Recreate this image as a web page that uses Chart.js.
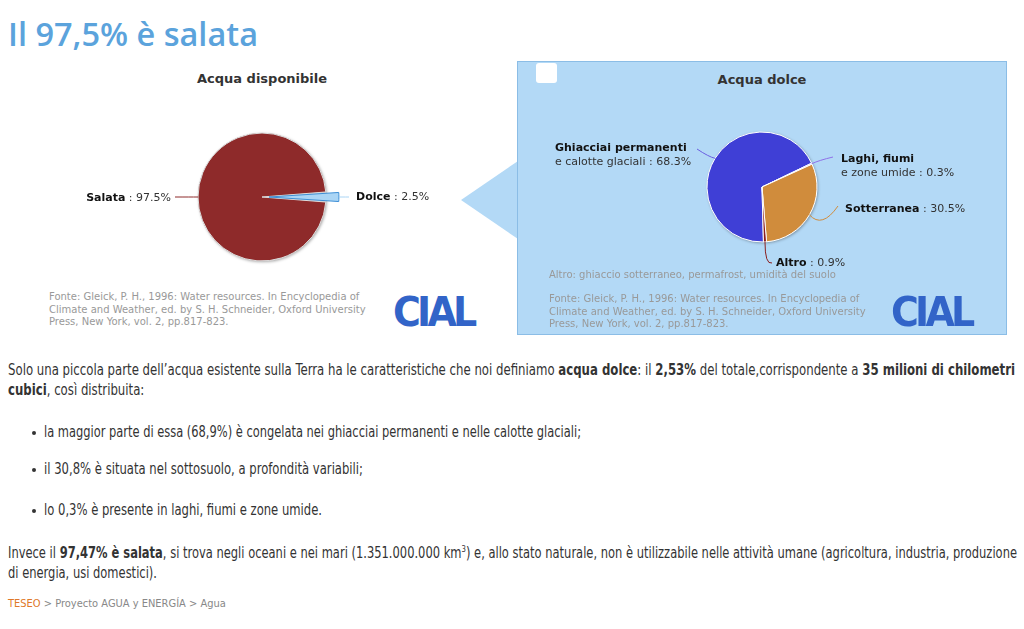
<!DOCTYPE html>
<html lang="it">
<head>
<meta charset="utf-8">
<title>Il 97,5% è salata</title>
<script src="https://cdn.jsdelivr.net/npm/chart.js@4.4.1/dist/chart.umd.min.js"></script>
<style>
  body { margin: 0; width: 1024px; height: 629px; overflow: hidden; background: #fff; position: relative; font-family: "DejaVu Sans", sans-serif; }
  h1 { position: absolute; left: 8px; top: 11px; margin: 0; font: 600 32.5px "Open Sans", sans-serif; color: #5ba3dc; white-space: nowrap; }
  .ctitle { position: absolute; font: bold 13px "DejaVu Sans", sans-serif; color: #333; white-space: nowrap; transform: translateX(-50%); }
  .note { position: absolute; font: 10px "DejaVu Sans", sans-serif; color: #999; line-height: 12.5px; white-space: nowrap; }
  .logo { position: absolute; font: bold 40px "DejaVu Sans", sans-serif; color: #3264c8; letter-spacing: -4px; line-height: 40px; transform: scaleX(0.95); transform-origin: left; }
  #box { position: absolute; left: 517px; top: 61px; width: 488px; height: 272px; background: #b3d9f6; border: 1px solid #8bbde6; }
  #arrow { position: absolute; left: 461px; top: 161px; width: 0; height: 0; border-top: 39px solid transparent; border-bottom: 39px solid transparent; border-right: 57px solid #b3d9f6; }
  #check { position: absolute; left: 536px; top: 63px; width: 21px; height: 20px; background: #fff; border-radius: 3px; }
  canvas { position: absolute; }
  .txt { position: absolute; left: 8px; font: 15px "DejaVu Sans Condensed", sans-serif; color: #333; line-height: 20px; white-space: nowrap; transform-origin: left top; }
  .txt b { color: #333; }
  .li { left: 44px; }
  .dot { position: absolute; left: 32px; width: 4px; height: 4px; border-radius: 2px; background: #333; }
  #foot { position: absolute; left: 8px; top: 597px; font: 11px "DejaVu Sans Condensed", sans-serif; color: #888; white-space: nowrap; }
  #foot span { color: #e0782a; }
</style>
</head>
<body>
<h1>Il 97,5% è salata</h1>

<div id="arrow"></div>
<div id="box"></div>
<div id="check"></div>

<div class="ctitle" style="left:262px; top:71px;">Acqua disponibile</div>
<div class="ctitle" style="left:762px; top:72px;">Acqua dolce</div>

<canvas id="pieTotale" width="460" height="230" style="left:0; top:55px;"></canvas>
<canvas id="pieDolce" width="488" height="272" style="left:518px; top:62px;"></canvas>

<div class="note" style="left:49px; top:291px;">Fonte: Gleick, P. H., 1996: Water resources. In Encyclopedia of<br>Climate and Weather, ed. by S. H. Schneider, Oxford University<br>Press, New York, vol. 2, pp.817-823.</div>
<div class="logo" style="left:393px; top:292px;">CIAL</div>

<div class="note" style="left:549px; top:269px;">Altro: ghiaccio sotterraneo, permafrost, umidità del suolo</div>
<div class="note" style="left:549px; top:293px;">Fonte: Gleick, P. H., 1996: Water resources. In Encyclopedia of<br>Climate and Weather, ed. by S. H. Schneider, Oxford University<br>Press, New York, vol. 2, pp.817-823.</div>
<div class="logo" style="left:891px; top:292px;">CIAL</div>

<div class="txt" data-w="1007" style="top:360px;"><span class="m">Solo una piccola parte dell’acqua esistente sulla Terra ha le caratteristiche che noi definiamo <b>acqua dolce</b>: il <b>2,53%</b> del totale,corrispondente a <b>35 milioni di chilometri</b></span><br><b>cubici</b>, così distribuita:</div>
<div class="dot" style="top:431px;"></div>
<div class="txt li" data-w="537" style="top:422px;"><span class="m">la maggior parte di essa (68,9%) è congelata nei ghiacciai permanenti e nelle calotte glaciali;</span></div>
<div class="dot" style="top:468px;"></div>
<div class="txt li" data-w="319" style="top:459px;"><span class="m">il 30,8% è situata nel sottosuolo, a profondità variabili;</span></div>
<div class="dot" style="top:509px;"></div>
<div class="txt li" data-w="278" style="top:500px;"><span class="m">lo 0,3% è presente in laghi, fiumi e zone umide.</span></div>
<div class="txt" data-w="1009" style="top:543px;"><span class="m">Invece il <b>97,47% è salata</b>, si trova negli oceani e nei mari (1.351.000.000 km<sup style="font-size:9px;line-height:0">3</sup>) e, allo stato naturale, non è utilizzabile nelle attività umane (agricoltura, industria, produzione</span><br>di energia, usi domestici).</div>
<div id="foot"><span>TESEO</span> &gt; Proyecto AGUA y ENERGÍA &gt; Agua</div>

<script>
// testo stretto come nell'originale
document.querySelectorAll('.txt').forEach(el => {
    const w = el.querySelector('.m').getBoundingClientRect().width;
    el.style.transform = 'scaleX(' + (Number(el.dataset.w) / w) + ')';
});

// Acqua disponibile
const nomiTotale = ['Salata', 'Dolce'];
const restoTotale = ['', ''];
const valoriTotale = [97.5, 2.5];
const coloriTotale = ['#8e2a2a', '#aad5f5'];
const bordiTotale = ['#dcdcdc', '#3d8fd6'];
const lineeTotale = ['#8e2a2a', '#aad5f5'];

// Acqua dolce
const nomiDolce = ['Ghiacciai permanenti', 'Laghi, fiumi', 'Sotterranea', 'Altro'];
const restoDolce = ['e calotte glaciali', 'e zone umide', '', ''];
const valoriDolce = [68.3, 0.3, 30.5, 0.9];
const coloriDolce = ['#3f3fd6', '#8f70e8', '#d08c3c', '#8b1e1e'];
const lineeDolce = ['#6a5ee0', '#8f70e8', '#d08c3c', '#8b1e1e'];

// ombra leggera dietro la torta
const pieShadow = {
    id: 'pieShadow',
    beforeDatasetsDraw(chart) {
        const arc = chart.getDatasetMeta(0).data[0];
        if (!arc) return;
        const ctx = chart.ctx;
        ctx.save();
        ctx.shadowColor = 'rgba(0,0,0,0.35)';
        ctx.shadowBlur = 3;
        ctx.shadowOffsetX = 1;
        ctx.shadowOffsetY = 1;
        ctx.fillStyle = '#d8d8d8';
        ctx.beginPath();
        ctx.arc(arc.x, arc.y, arc.outerRadius, 0, Math.PI * 2);
        ctx.fill();
        ctx.restore();
    }
};

// etichette con linee di richiamo
const leaderLabels = {
    id: 'leaderLabels',
    afterDatasetsDraw(chart, args, opts) {
        const ctx = chart.ctx;
        const ds = chart.data.datasets[0];
        chart.getDatasetMeta(0).data.forEach((arc, i) => {
            const p = arc.getProps(['x', 'y', 'startAngle', 'endAngle', 'outerRadius'], true);
            const pos = opts.place[i];
            const mid = (p.startAngle + p.endAngle) / 2;
            const off = (arc.options.offset || 0) / 4;
            const fix = 1 - Math.sin(Math.min(Math.PI, p.endAngle - p.startAngle));
            const r = p.outerRadius + off + off * fix;
            const ex = p.x + Math.cos(mid) * r;
            const ey = p.y + Math.sin(mid) * r;
            const cx = pos.cx !== undefined ? p.x + pos.cx : p.x + Math.cos(mid) * (r + 8);
            const cy = pos.cy !== undefined ? p.y + pos.cy : p.y + Math.sin(mid) * (r + 8);
            ctx.save();
            ctx.strokeStyle = opts.lineColors[i];
            ctx.lineWidth = 1;
            ctx.beginPath();
            ctx.moveTo(ex, ey);
            ctx.quadraticCurveTo(cx, cy, p.x + pos.lx, p.y + pos.ly);
            ctx.stroke();

            const val = ' : ' + ds.data[i].toFixed(1) + '%';
            const bold = 'bold 11px "DejaVu Sans", sans-serif';
            const norm = '11px "DejaVu Sans", sans-serif';
            ctx.textBaseline = 'middle';
            let tx = p.x + pos.tx;
            const ty = p.y + pos.ty;
            if (opts.rest[i]) {
                ctx.font = bold; ctx.fillStyle = '#111';
                ctx.fillText(opts.names[i], tx, ty);
                ctx.font = norm; ctx.fillStyle = '#333';
                ctx.fillText(opts.rest[i] + val, tx, ty + 14);
            } else {
                ctx.font = bold;
                const w1 = ctx.measureText(opts.names[i]).width;
                ctx.font = norm;
                const w2 = ctx.measureText(val).width;
                if (pos.align === 'right') tx -= w1 + w2;
                ctx.font = bold; ctx.fillStyle = '#111';
                ctx.fillText(opts.names[i], tx, ty);
                ctx.font = norm; ctx.fillStyle = '#333';
                ctx.fillText(val, tx + w1, ty);
            }
            ctx.restore();
        });
    }
};

new Chart(document.getElementById('pieTotale'), {
    type: 'pie',
    data: {
        labels: nomiTotale,
        datasets: [{
            data: valoriTotale,
            backgroundColor: coloriTotale,
            borderColor: bordiTotale,
            borderWidth: 1,
            offset: [0, 28],
        }],
    },
    options: {
        responsive: false,
        animation: false,
        rotation: 94.5,
        radius: 64,
        layout: { padding: { left: 64, right: 0, top: 54, bottom: 0 } },
        plugins: {
            legend: { display: false },
            tooltip: { enabled: false },
            leaderLabels: {
                names: nomiTotale,
                rest: restoTotale,
                lineColors: lineeTotale,
                place: [
                    { tx: -91, ty: 1, lx: -87, ly: 0, align: 'right' },
                    { tx: 94, ty: 0, lx: 87, ly: 0, align: 'left' },
                ],
            },
        },
    },
    plugins: [pieShadow, leaderLabels],
});

new Chart(document.getElementById('pieDolce'), {
    type: 'pie',
    data: {
        labels: nomiDolce,
        datasets: [{
            data: valoriDolce,
            backgroundColor: coloriDolce,
            borderColor: '#ffffff',
            borderWidth: 1,
        }],
    },
    options: {
        responsive: false,
        animation: false,
        rotation: 178.5,
        radius: 55,
        layout: { padding: { left: 0, right: 0, top: 0, bottom: 22 } },
        plugins: {
            legend: { display: false },
            tooltip: { enabled: false },
            leaderLabels: {
                names: nomiDolce,
                rest: restoDolce,
                lineColors: lineeDolce,
                place: [
                    { tx: -207, ty: -39, lx: -65, ly: -38, cx: -53, cy: -30 },
                    { tx: 79, ty: -28, lx: 71, ly: -30 },
                    { tx: 83, ty: 22, lx: 76, ly: 19, cx: 60, cy: 42 },
                    { tx: 14, ty: 76, lx: 10, ly: 76, cx: 3, cy: 78 },
                ],
            },
        },
    },
    plugins: [pieShadow, leaderLabels],
});
</script>
</body>
</html>
